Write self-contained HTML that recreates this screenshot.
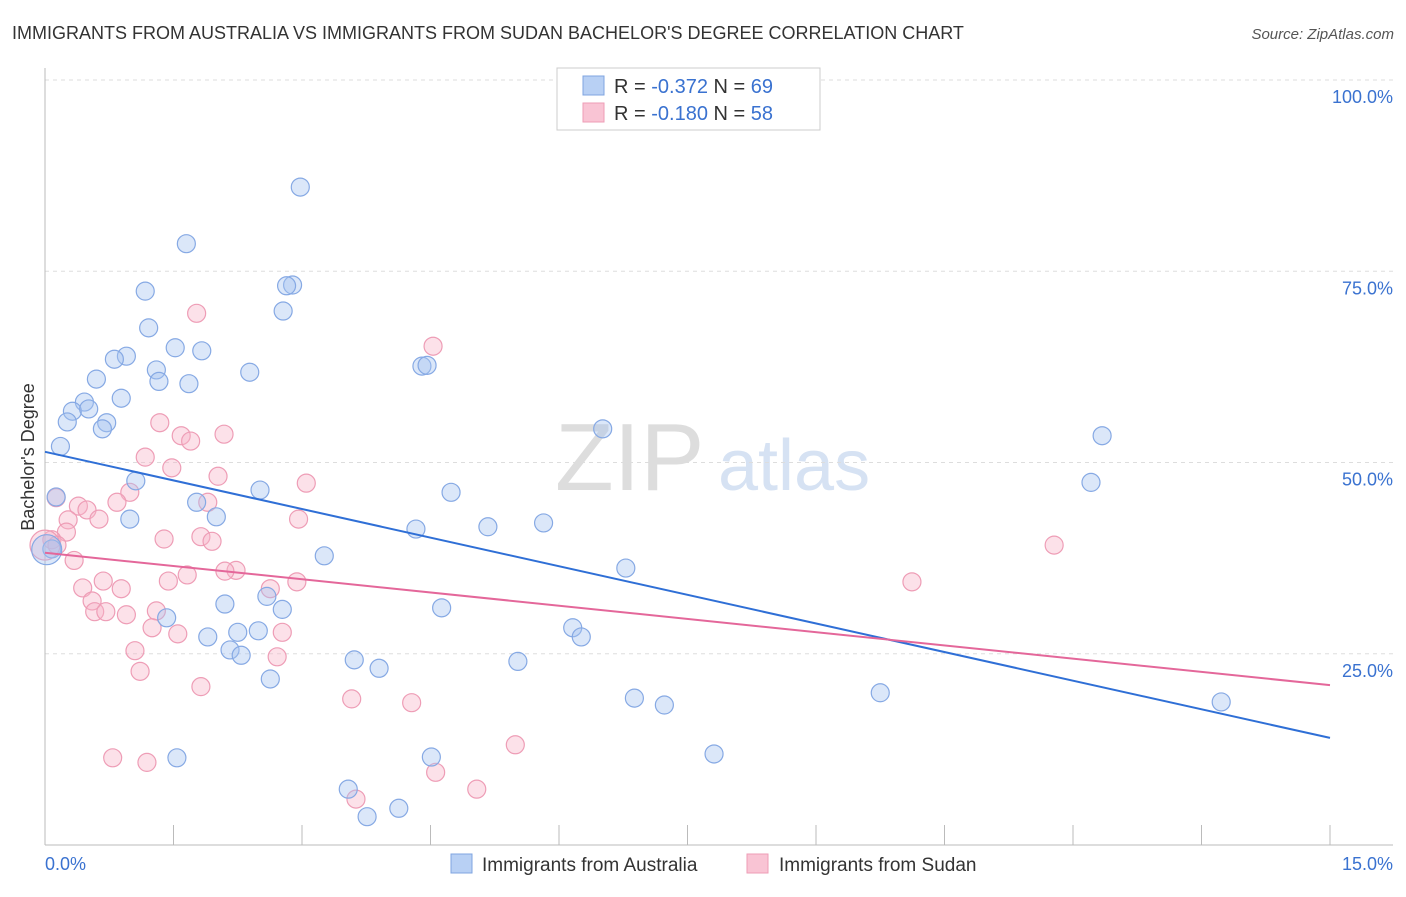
<!DOCTYPE html>
<html><head><meta charset="utf-8">
<style>
body{margin:0;background:#fff;font-family:"Liberation Sans",sans-serif;}
svg text{font-family:"Liberation Sans",sans-serif;}
</style></head>
<body>
<svg id="chart" width="1406" height="892" viewBox="0 0 1406 892">
<text x="12" y="39" font-size="18" fill="#333">IMMIGRANTS FROM AUSTRALIA VS IMMIGRANTS FROM SUDAN BACHELOR'S DEGREE CORRELATION CHART</text>
<text x="1394" y="39" font-size="15" fill="#555" text-anchor="end" font-style="italic">Source: ZipAtlas.com</text>
<g>
<text x="555" y="490" font-size="96" fill="#ddd" font-family="Liberation Serif">ZIP</text>
<text x="718" y="490" font-size="72" fill="#d6e2f3">atlas</text>
</g>
<g id="grid"></g>
<g id="axes"></g>
<g id="pts"></g>
<g id="trends"></g>
<g>
<rect x="557" y="68" width="263" height="62" fill="#fff" stroke="#ccc"/>
<rect x="583" y="76" width="21" height="19" fill="#b8d0f4" stroke="#7fa4e0"/>
<rect x="583" y="103" width="21" height="19" fill="#f9c4d4" stroke="#ee9db6"/>
<text x="614" y="93" font-size="20" fill="#333">R = <tspan fill="#3a72d0">-0.372</tspan>   N = <tspan fill="#3a72d0">69</tspan></text>
<text x="614" y="120" font-size="20" fill="#333">R = <tspan fill="#3a72d0">-0.180</tspan>   N = <tspan fill="#3a72d0">58</tspan></text>
</g>
<text transform="translate(34,457) rotate(-90)" font-size="18" fill="#333" text-anchor="middle">Bachelor's Degree</text>
<g>
<rect x="451" y="854" width="21" height="19" fill="#b8d0f4" stroke="#7fa4e0"/>
<text x="482" y="871" font-size="19" fill="#333">Immigrants from Australia</text>
<rect x="747" y="854" width="21" height="19" fill="#f9c4d4" stroke="#ee9db6"/>
<text x="779" y="871" font-size="19" fill="#333">Immigrants from Sudan</text>
</g>
</svg>
<script>
const blueX=[2.98,1.65,1.17,2.89,2.82,2.78,1.21,1.52,1.83,0.95,0.81,2.39,1.30,1.33,1.68,0.60,4.40,4.46,0.89,0.46,0.32,0.51,0.26,0.72,0.67,0.18,6.51,12.34,12.21,1.06,0.13,2.51,4.74,1.77,2.00,0.99,5.82,5.17,4.33,3.26,6.78,0.08,2.59,2.10,2.77,4.63,1.42,6.16,6.26,2.25,2.49,1.90,2.16,2.29,3.61,5.52,3.90,2.63,6.88,9.75,7.23,13.73,7.81,1.54,4.51,3.54,4.13,3.76,0.02];
const blueY=[86.0,78.6,72.4,73.2,73.1,69.8,67.6,65.0,64.6,63.9,63.5,61.8,62.1,60.6,60.3,60.9,62.6,62.7,58.4,57.9,56.7,57.0,55.3,55.2,54.4,52.1,54.4,53.5,47.4,47.6,45.5,46.4,46.1,44.8,42.9,42.6,42.1,41.6,41.3,37.8,36.2,38.7,32.5,31.5,30.8,31.0,29.7,28.4,27.2,27.8,28.0,27.2,25.5,24.8,24.2,24.0,23.1,21.7,19.2,19.9,18.3,18.7,11.9,11.4,11.5,7.3,4.8,3.7,38.6];
const pinkX=[1.77,4.53,1.34,2.09,1.59,1.70,1.17,1.48,2.02,3.05,0.99,0.13,0.84,1.90,0.39,0.49,0.63,2.96,0.27,0.25,1.39,1.82,1.95,0.08,0.14,0.34,11.78,0.68,2.23,2.10,1.66,1.44,10.12,2.94,0.44,0.89,2.63,0.55,0.58,0.71,0.95,1.30,1.25,1.55,2.77,1.05,2.71,1.11,1.82,3.58,4.28,0.79,1.19,5.49,4.56,3.63,5.04,0.0];
const pinkY=[69.5,65.2,55.2,53.7,53.5,52.8,50.7,49.3,48.2,47.3,46.1,45.4,44.8,44.8,44.3,43.8,42.6,42.6,42.5,40.9,40.0,40.3,39.7,39.9,39.2,37.2,39.2,34.5,35.9,35.8,35.3,34.5,34.4,34.4,33.6,33.5,33.5,31.9,30.5,30.5,30.1,30.6,28.4,27.6,27.8,25.4,24.6,22.7,20.7,19.1,18.6,11.4,10.8,13.1,9.5,6.0,7.3,39.2];
const blueTrend=[51.4,14.0];
const pinkTrend=[38.2,20.9];
const yTicks=[25,50,75,100];
const yTickLabels=["25.0%","50.0%","75.0%","100.0%"];
const xTickVals=[0,1.5,3,4.5,6,7.5,9,10.5,12,13.5,15];

const NS="http://www.w3.org/2000/svg";
const X=v=>45+v/15*1285;
const Y=v=>845-v/100*765;
function mk(tag,attrs,parent){const e=document.createElementNS(NS,tag);for(const k in attrs)e.setAttribute(k,attrs[k]);parent.appendChild(e);return e;}
const grid=document.getElementById('grid'),axes=document.getElementById('axes'),pts=document.getElementById('pts'),tr=document.getElementById('trends');
yTicks.forEach((t,i)=>{
  const l=mk('line',{x1:45,x2:1393,y1:Y(t),y2:Y(t),stroke:'#ddd','stroke-dasharray':'4,4'},grid);
  
  
  const tx=mk('text',{x:1393,y:Y(t)+23,'font-size':18,fill:'#3a72d0','text-anchor':'end'},axes);
  tx.textContent=yTickLabels[i];
  
  
});
mk('line',{x1:45,x2:45,y1:68,y2:845,stroke:'#bbb'},axes);
mk('line',{x1:45,x2:1393,y1:845,y2:845,stroke:'#bbb'},axes);
xTickVals.forEach(v=>{
  const t=mk('line',{x1:X(v),x2:X(v),y1:825,y2:845,stroke:'#bbb'},axes);
  
  
});
const xl0=mk('text',{x:45,y:870,'font-size':18,fill:'#3a72d0'},axes);xl0.textContent='0.0%';


const xl1=mk('text',{x:1393,y:870,'font-size':18,fill:'#3a72d0','text-anchor':'end'},axes);xl1.textContent='15.0%';


function drawPts(xs,ys,fill,stroke,name){
  xs.forEach((x,i)=>{
    const r=(i===xs.length-1)?15:9;
    const c=mk('circle',{cx:X(x),cy:Y(ys[i]),r:r,fill:fill,stroke:stroke,'stroke-width':1.2},pts);
    
    
  });
}
drawPts(pinkX,pinkY,'rgba(248,180,200,0.4)','#ee9db6','sudan-point');
drawPts(blueX,blueY,'rgba(165,195,240,0.4)','#86a9e4','australia-point');
const bl=mk('line',{x1:X(0),y1:Y(blueTrend[0]),x2:X(15),y2:Y(blueTrend[1]),stroke:'#2f6fd6','stroke-width':2},tr);


const pl=mk('line',{x1:X(0),y1:Y(pinkTrend[0]),x2:X(15),y2:Y(pinkTrend[1]),stroke:'#e4679a','stroke-width':2},tr);


</script>
</body></html>
